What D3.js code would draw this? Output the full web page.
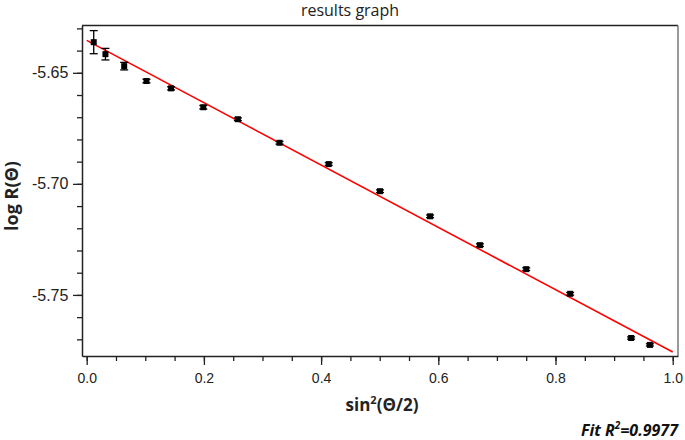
<!DOCTYPE html>
<html>
<head>
<meta charset="utf-8">
<script src="https://cdn.jsdelivr.net/npm/d3@7"></script>
<style>
  body { margin: 0; background: #fff; }
  svg { font-family: "Open Sans", "Noto Sans", sans-serif; }
</style>
</head>
<body>
<svg id="chart" width="685" height="440"></svg>
<script>
// measured points, sin^2(theta/2) vs log R
const xVals = [0.012, 0.032, 0.064, 0.102, 0.144, 0.199, 0.258, 0.329, 0.413, 0.5005, 0.586, 0.671, 0.750, 0.825, 0.929, 0.961];
const yVals = [-5.6362, -5.6416, -5.6470, -5.6537, -5.6570, -5.6655, -5.6709, -5.6815, -5.6911, -5.7033, -5.7146, -5.7276, -5.7384, -5.7495, -5.7694, -5.7725];
const yErr = [0.0052, 0.0026, 0.0017, 0.0008, 0.0007, 0.0008, 0.0006, 0.0006, 0.0006, 0.0006, 0.0006, 0.0006, 0.0006, 0.0006, 0.0005, 0.0005];
// fit line
const fitX = [0, 1];
const fitIntercept = -5.6354;
const fitSlope = -0.1403;
const xTicks = [0, 0.2, 0.4, 0.6, 0.8, 1.0];
const yTicks = [-5.65, -5.70, -5.75];

const svg = d3.select('#chart');
const margin = { left: 82, right: 7, top: 25.5, bottom: 84 };
const W = 685, H = 440;

const x = d3.scaleLinear().domain([-0.008, 1.009]).range([margin.left, W - margin.right]);
const y = d3.scaleLinear().domain([-5.7775, -5.6287]).range([H - margin.bottom, margin.top]);

// frame (top + right)
svg.append('line')
    .attr('x1', margin.left).attr('x2', W - margin.right)
    .attr('y1', margin.top).attr('y2', margin.top)
    .attr('stroke', '#222').attr('stroke-width', 1.5);
svg.append('line')
    .attr('x1', W - margin.right).attr('x2', W - margin.right)
    .attr('y1', margin.top).attr('y2', H - margin.bottom)
    .attr('stroke', '#777').attr('stroke-width', 1.5);

// axes
const xMinor = d3.range(0, 1.0001, 0.05);
const yMinor = d3.range(-5.77, -5.6299, 0.01);

const gx = svg.append('g').attr('transform', `translate(0,${H - margin.bottom})`);
gx.call(d3.axisBottom(x).tickValues(xMinor).tickSize(5).tickFormat(''));
gx.call(g => g.select('.domain').remove());
const gx2 = svg.append('g').attr('transform', `translate(0,${H - margin.bottom})`);
gx2.call(d3.axisBottom(x).tickValues(xTicks).tickSize(9).tickSizeOuter(0).tickFormat(d3.format('.1f')));
gx2.selectAll('text').attr('font-size', 14).attr('fill', '#222').attr('dy', '1.05em');

const gy = svg.append('g').attr('transform', `translate(${margin.left},0)`);
gy.call(d3.axisLeft(y).tickValues(yMinor).tickSize(5).tickFormat(''));
gy.call(g => g.select('.domain').remove());
const gy2 = svg.append('g').attr('transform', `translate(${margin.left},0)`);
gy2.call(d3.axisLeft(y).tickValues(yTicks).tickSize(9).tickSizeOuter(0).tickFormat(d3.format('.2f')));
gy2.selectAll('text').attr('font-size', 16).attr('fill', '#222').attr('dx', '-0.1em')
    .text(d => d3.format('.2f')(d).replace('−', '-'));

svg.selectAll('.domain').attr('stroke', '#222').attr('stroke-width', 1.5);
svg.selectAll('.tick line').attr('stroke', '#222').attr('stroke-width', 1.3);

// fit line
const line = d3.line().x(d => x(d)).y(d => y(fitIntercept + fitSlope * d));
svg.append('path')
    .datum(fitX)
    .attr('d', line)
    .attr('fill', 'none')
    .attr('stroke', '#ff0000')
    .attr('stroke-width', 1.6);

// error bars + markers
const pts = xVals.map((v, i) => ({ x: v, y: yVals[i], e: yErr[i] }));
const eb = svg.append('g').attr('stroke', '#000').attr('stroke-width', 1.3);
pts.forEach(p => {
    eb.append('line').attr('x1', x(p.x)).attr('x2', x(p.x)).attr('y1', y(p.y - p.e)).attr('y2', y(p.y + p.e));
    eb.append('line').attr('x1', x(p.x) - 4).attr('x2', x(p.x) + 4).attr('y1', y(p.y - p.e)).attr('y2', y(p.y - p.e));
    eb.append('line').attr('x1', x(p.x) - 4).attr('x2', x(p.x) + 4).attr('y1', y(p.y + p.e)).attr('y2', y(p.y + p.e));
});
svg.append('g').selectAll('rect')
    .data(pts)
    .enter().append('rect')
    .attr('x', d => x(d.x) - 3)
    .attr('y', d => y(d.y) - 3)
    .attr('width', 6)
    .attr('height', 6)
    .attr('fill', '#000');

// texts
svg.append('text')
    .attr('x', 350).attr('y', 16)
    .attr('text-anchor', 'middle')
    .attr('font-size', 16)
    .attr('fill', '#222')
    .text('results graph');

const xl = svg.append('text')
    .attr('x', 382).attr('y', 411)
    .attr('text-anchor', 'middle')
    .attr('font-size', 17)
    .attr('font-weight', 'bold')
    .attr('fill', '#222');
xl.append('tspan').text('sin');
xl.append('tspan').attr('font-size', 11).attr('dy', -7).text('2');
xl.append('tspan').attr('dy', 7).text('(Θ/2)');

svg.append('text')
    .attr('transform', 'translate(18,196) rotate(-90)')
    .attr('text-anchor', 'middle')
    .attr('font-size', 18)
    .attr('font-weight', 'bold')
    .attr('fill', '#222')
    .text('log R(Θ)');

const fit = svg.append('text')
    .attr('x', 678).attr('y', 436)
    .attr('text-anchor', 'end')
    .attr('font-size', 16)
    .attr('font-weight', 'bold')
    .attr('font-style', 'italic')
    .attr('fill', '#111');
fit.append('tspan').text('Fit R');
fit.append('tspan').attr('font-size', 10).attr('dy', -7).text('2');
fit.append('tspan').attr('dy', 7).text('=0.9977');
</script>
</body>
</html>
